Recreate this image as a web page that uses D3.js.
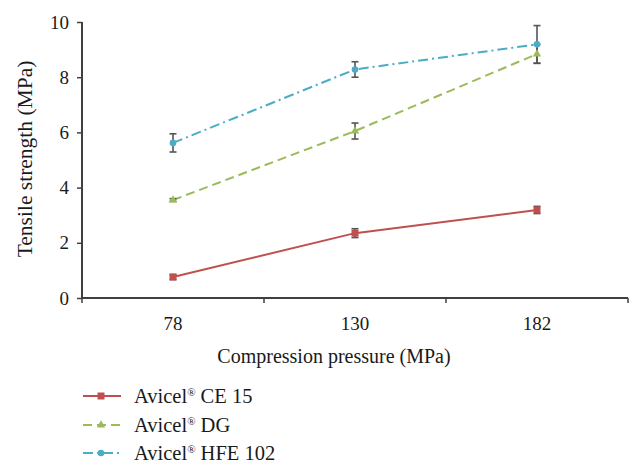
<!DOCTYPE html>
<html><head><meta charset="utf-8">
<script src="https://cdn.jsdelivr.net/npm/d3@7"></script>
<style>body{margin:0;background:#fff}svg{display:block}</style>
</head><body><svg id="c" width="643" height="472"></svg>
<script>
const categories = ["78", "130", "182"];
const seriesNames = ["Avicel® CE 15", "Avicel® DG", "Avicel® HFE 102"];
const ce15 = [0.76, 2.35, 3.19];
const ce15Err = [0.09, 0.16, 0.13];
const dg = [3.55, 6.05, 8.84];
const dgErr = [0.05, 0.29, 0.34];
const hfe = [5.62, 8.28, 9.19];
const hfeErr = [0.33, 0.28, 0.68];
const yTicks = [0, 2, 4, 6, 8, 10];

(function () {
const FONT = "'Liberation Serif', Tinos, 'DejaVu Serif', 'Times New Roman', serif";
const series = [
  {name: seriesNames[0], values: ce15, err: ce15Err, color: "#c0504d", dash: null, marker: "square"},
  {name: seriesNames[1], values: dg, err: dgErr, color: "#9bbb59", dash: "9,5", marker: "triangle"},
  {name: seriesNames[2], values: hfe, err: hfeErr, color: "#4bacc6", dash: "10,4,2,4", marker: "circle"}
];

const svg = d3.select("#c").attr("font-family", FONT);
const mL = 82, mR = 628, mT = 22, mB = 298;
const x = d3.scaleBand().domain(categories).range([mL, mR]);
const y = d3.scaleLinear().domain([0, 10]).range([mB, mT]);
const axisColor = "#404040";

const yAxis = svg.append("g").attr("transform", `translate(${mL},0)`)
  .call(d3.axisLeft(y).tickValues(yTicks).tickSize(5).tickPadding(8));
const xAxis = svg.append("g").attr("transform", `translate(0,${mB})`)
  .call(d3.axisBottom(x).tickSize(0).tickPadding(19));
[yAxis, xAxis].forEach(g => {
  g.attr("font-family", FONT).attr("font-size", 19);
  g.select(".domain").attr("stroke", axisColor).attr("stroke-width", 2);
  g.selectAll(".tick line").attr("stroke", axisColor).attr("stroke-width", 1.5);
  g.selectAll("text").attr("fill", "#1a1a1a");
});
yAxis.select(".domain").attr("d", `M0,${mT}V${mB}`);
xAxis.select(".domain").attr("d", `M${mL},0H${mR}`);
const bounds = [mL].concat(categories.map(c => x(c) + x.bandwidth()));
xAxis.selectAll(".btick").data(bounds).enter().append("line")
  .attr("x1", d => d).attr("x2", d => d).attr("y1", 0).attr("y2", 5)
  .attr("stroke", axisColor).attr("stroke-width", 1.5);

svg.append("text").attr("transform", `translate(32,159) rotate(-90)`)
  .attr("text-anchor", "middle").attr("font-size", 21.5).attr("fill", "#1a1a1a").text("Tensile strength (MPa)");
svg.append("text").attr("x", 334).attr("y", 363)
  .attr("text-anchor", "middle").attr("font-size", 20).attr("fill", "#1a1a1a").text("Compression pressure (MPa)");

const cx = c => x(c) + x.bandwidth() / 2;

function drawMarker(g, type, color, px, py) {
  if (type === "square") g.append("rect").attr("x", px-3.5).attr("y", py-3.5).attr("width", 7).attr("height", 7).attr("fill", color);
  else if (type === "triangle") g.append("path").attr("d", d3.symbol(d3.symbolTriangle, 30)()).attr("transform", `translate(${px},${py})`).attr("fill", color);
  else g.append("circle").attr("cx", px).attr("cy", py).attr("r", 3.3).attr("fill", color);
}

series.forEach(s => {
  const line = d3.line().x((d, i) => cx(categories[i])).y(d => y(d));
  svg.append("path").datum(s.values).attr("d", line).attr("fill", "none")
    .attr("stroke", s.color).attr("stroke-width", 2).attr("stroke-dasharray", s.dash);
});
series.forEach(s => {
  const g = svg.append("g").attr("stroke", "#555").attr("stroke-width", 1.6);
  s.values.forEach((v, i) => {
    const px = cx(categories[i]);
    const y1 = y(v + s.err[i]), y2 = y(v - s.err[i]);
    g.append("line").attr("x1", px).attr("x2", px).attr("y1", y1).attr("y2", y2);
    g.append("line").attr("x1", px-3.5).attr("x2", px+3.5).attr("y1", y1).attr("y2", y1);
    g.append("line").attr("x1", px-3.5).attr("x2", px+3.5).attr("y1", y2).attr("y2", y2);
  });
});
series.forEach(s => {
  const g = svg.append("g");
  s.values.forEach((v, i) => drawMarker(g, s.marker, s.color, cx(categories[i]), y(v)));
});

const legY = [396, 425, 453];
series.forEach((s, i) => {
  const g = svg.append("g");
  g.append("line").attr("x1", 83).attr("x2", 121).attr("y1", legY[i]).attr("y2", legY[i])
    .attr("stroke", s.color).attr("stroke-width", 2).attr("stroke-dasharray", s.dash);
  drawMarker(g, s.marker, s.color, 101, legY[i]);
  const t = g.append("text").attr("x", 134).attr("y", legY[i] + 7).attr("font-size", 20.5).attr("fill", "#1a1a1a");
  const parts = s.name.split("®");
  t.append("tspan").text(parts[0]);
  t.append("tspan").attr("font-size", 11).attr("dy", -7).text("®");
  t.append("tspan").attr("dy", 7).text(parts[1]);
});
})();
</script></body></html>
